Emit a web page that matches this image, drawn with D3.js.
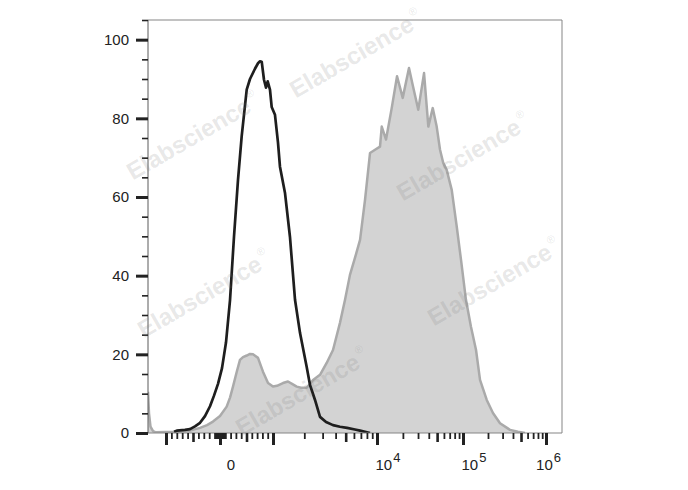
<!DOCTYPE html>
<html><head><meta charset="utf-8">
<script src="https://cdn.jsdelivr.net/npm/d3@7"></script>
<style>body{margin:0;background:#fff}svg{display:block}</style>
</head><body>
<svg id="chart" width="688" height="490"></svg>
<script>
// ---------- data (x in biexponential display units: 0 = 0, 1 = 10^3, 2 = 10^4, 3 = 10^5, 4 = 10^6) ----------
const blackT = [-0.85,-0.80,-0.65,-0.556,-0.463,-0.37,-0.278,-0.185,-0.111,-0.037,0.038,0.113,0.189,0.264,0.34,0.409,0.504,0.566,0.66,0.717,0.755,0.787,0.83,0.868,0.9,0.943,0.975,1.019,1.048,1.067,1.115,1.163,1.212,1.26,1.324,1.356,1.404,1.452,1.51,1.577,1.644,1.712,1.788,1.837,1.933];
const blackCount = [0.3,0.6,0.8,1.0,1.7,2.6,4.3,6.8,9.5,12.5,16.5,23.0,33.8,49.9,64.4,75.4,87.3,90.0,92.6,94.0,94.5,94.4,89.8,87.8,89.4,87.3,82.9,80.9,73.8,67.7,61.1,49.9,33.8,25.4,16.8,12.2,8.4,4.1,2.8,2.0,1.6,1.3,0.9,0.6,0.0];

const grayT = [-1.333,-1.315,-1.287,-1.24,-1.2,-0.80,-0.556,-0.37,-0.24,-0.13,0,0.126,0.189,0.245,0.315,0.377,0.434,0.504,0.566,0.623,0.717,0.811,0.906,1.0,1.038,1.096,1.144,1.183,1.228,1.269,1.324,1.356,1.385,1.452,1.516,1.577,1.644,1.692,1.74,1.788,1.837,1.885,1.933,1.981,2.035,2.055,2.105,2.171,2.233,2.299,2.372,2.419,2.48,2.547,2.597,2.648,2.694,2.733,2.771,2.81,2.869,2.927,2.977,3.036,3.096,3.157,3.205,3.286,3.361,3.446,3.566,3.663,3.747];
const grayCount = [10.5,5.0,1.6,0.5,0.2,0.3,0.6,1.3,2.0,2.9,4.3,6.7,9.0,11.8,15.5,18.6,19.3,19.7,20.1,20.0,19.1,15.6,12.7,11.8,12.0,12.7,13.1,12.5,11.8,11.5,11.5,12.5,13.5,14.8,17.8,21.1,28.0,33.8,40.2,44.5,49.1,59.3,71.2,72.0,72.8,77.9,74.6,82.6,90.7,85.2,92.8,88.1,82.2,91.5,77.9,82.6,77.9,72.0,68.6,66.9,61.8,52.5,44.0,33.8,27.0,21.1,13.5,8.4,5.1,2.5,0.8,0.3,0.0];

const yMajorTicks = [0,20,40,60,80,100];
const yMinorTicks = [5,10,15,25,30,35,45,50,55,65,70,75,85,90,95,105];
const yDomain = [0,105];

const xMajorTicks = [-1000,0,1000,1e4,1e5,1e6];
const xMediumTicks = [-500,500,5000,5e4,5e5];
const xLabelValues = [0,1e4,1e5,1e6];
const xLabelBase = ["0","10","10","10"];
const xLabelExp = ["","4","5","6"];

const watermarkText = "Elabscience";

// ---------- layout ----------
const plot = {left:148, right:562, top:20, bottom:433};
const svg = d3.select("#chart");
svg.append("rect").attr("width",688).attr("height",490).attr("fill","#fff");

// biexponential-style transform: linear within ±1000, log decades outside
function biex(v){
  const a = Math.abs(v);
  return a <= 1000 ? v/1000 : Math.sign(v)*(1+Math.log10(a/1000));
}
const x = d3.scaleLinear().domain([-1,0,1,2,3,4]).range([166,220,273,377,463,546]);
const y = d3.scaleLinear().domain(yDomain).range([plot.bottom, plot.top]);

// minor tick values
const xMinorTicks = [];
for (let k=1;k<=9;k++){ if(k!==5){ xMinorTicks.push(-k*100, k*100); } }
for (let k=1;k<=9;k++){ xMinorTicks.push(-k*10, k*10); }
for (const d of [1e3,1e4,1e5]) for (let k=2;k<=9;k++){ if(k!==5) xMinorTicks.push(k*d); }

const font = "'Liberation Sans', Arial, sans-serif";

// clip
svg.append("defs").append("clipPath").attr("id","clip")
  .append("rect").attr("x",plot.left).attr("y",plot.top-2)
  .attr("width",plot.right-plot.left).attr("height",plot.bottom-plot.top+2);

const g = svg.append("g").attr("clip-path","url(#clip)");

const grayData = grayT.map((t,i)=>({t, c:grayCount[i]}));
const blackData = blackT.map((t,i)=>({t, c:blackCount[i]}));

g.append("path").datum(grayData)
  .attr("d", d3.area().x(d=>x(d.t)).y0(y(0)).y1(d=>y(d.c)))
  .attr("fill","#d3d3d3");
g.append("path").datum(grayData)
  .attr("d", d3.line().x(d=>x(d.t)).y(d=>y(d.c)))
  .attr("fill","none").attr("stroke","#aaaaaa").attr("stroke-width",2.5).attr("stroke-linejoin","round");
g.append("path").datum(blackData)
  .attr("d", d3.line().x(d=>x(d.t)).y(d=>y(d.c)))
  .attr("fill","none").attr("stroke","#1e1e1e").attr("stroke-width",2.7).attr("stroke-linejoin","round");

// frame
svg.append("path")
  .attr("d", `M${plot.left},${plot.top}H${plot.right}V${plot.bottom}H${plot.left}`)
  .attr("fill","none").attr("stroke","#858585").attr("stroke-width",1);
svg.append("line").attr("x1",plot.left).attr("x2",plot.left).attr("y1",plot.top).attr("y2",plot.bottom)
  .attr("stroke","#5a5a5a").attr("stroke-width",1);

// y axis
function styleAxis(sel, w){
  sel.select(".domain").remove();
  sel.selectAll(".tick line").attr("stroke","#222").attr("stroke-width",w);
}
svg.append("g").attr("transform",`translate(${plot.left},0)`)
  .call(d3.axisLeft(y).tickValues(yMajorTicks).tickSize(12).tickPadding(7).tickFormat(d3.format("d")))
  .call(s=>styleAxis(s,3))
  .call(s=>s.selectAll("text").attr("font-family",font).attr("font-size",15).attr("fill","#222"));
svg.append("g").attr("transform",`translate(${plot.left},0)`)
  .call(d3.axisLeft(y).tickValues(yMinorTicks).tickSize(6).tickFormat(""))
  .call(s=>styleAxis(s,1.6));

// x axis ticks
const xb = svg.append("g").attr("transform",`translate(0,${plot.bottom})`);
xb.append("g").call(d3.axisBottom(x).tickValues(xMinorTicks.map(biex)).tickSize(6).tickFormat("")).call(s=>styleAxis(s,1.8));
xb.append("g").call(d3.axisBottom(x).tickValues(xMediumTicks.map(biex)).tickSize(9).tickFormat("")).call(s=>styleAxis(s,2.6));
xb.append("g").call(d3.axisBottom(x).tickValues(xMajorTicks.map(biex)).tickSize(12).tickFormat("")).call(s=>styleAxis(s,3));

// x labels
xLabelValues.forEach((v,i)=>{
  const t = svg.append("text")
    .attr("y",470).attr("text-anchor","middle")
    .attr("font-family",font).attr("font-size",15).attr("fill","#222");
  t.append("tspan").text(xLabelBase[i]);
  if (xLabelExp[i]) t.append("tspan").attr("dy",-8).attr("dx",1).attr("font-size",13).text(xLabelExp[i]);
  let cx = x(biex(v)) + 11;
  t.attr("x",cx);
  const bb = t.node().getBBox();
  if (bb.x + bb.width > plot.right - 1) t.attr("x", cx - (bb.x + bb.width - (plot.right - 1)));
});

// watermarks
const wmPos = [[193,136],[356,54],[463,157],[204,294],[494,282],[302,392]];
wmPos.forEach(([cx,cy])=>{
  const t = svg.append("text")
    .attr("transform",`translate(${cx},${cy}) rotate(-30)`)
    .attr("text-anchor","middle").attr("dy","0.35em")
    .attr("font-family",font).attr("font-weight","bold").attr("font-size",24)
    .attr("fill","rgb(120,120,120)").attr("fill-opacity",0.18);
  t.append("tspan").text(watermarkText);
  t.append("tspan").attr("font-size",11).attr("dy",-13).attr("dx",2).attr("font-weight","normal").text("®");
});
</script>
</body></html>
